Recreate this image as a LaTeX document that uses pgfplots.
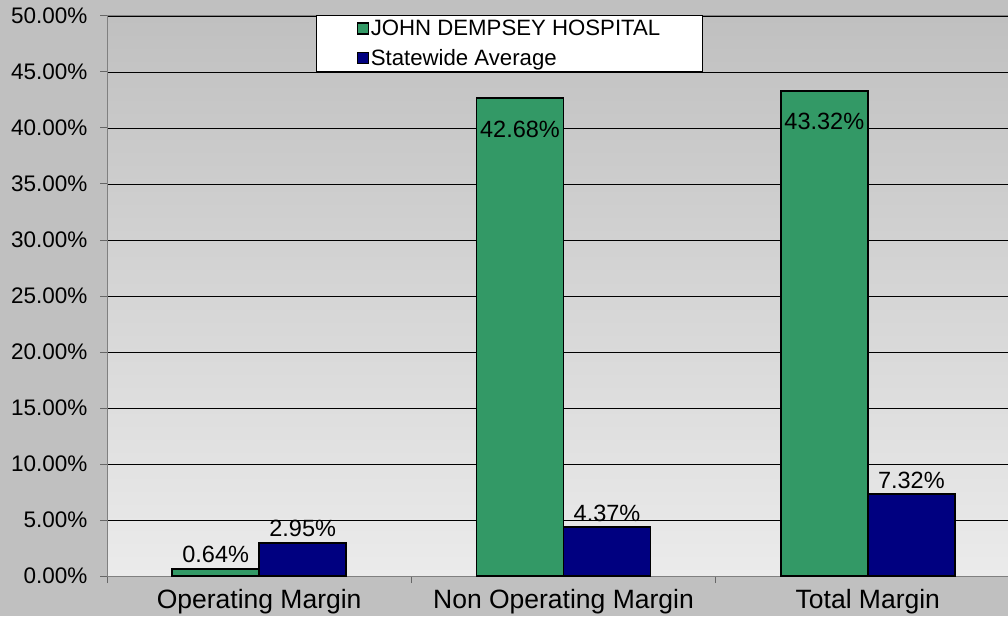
\documentclass[border=0pt]{standalone}
\usepackage{pgfplots}
\pgfplotsset{compat=1.18}
\usepackage{fontspec}
\setmainfont{Liberation Sans}
\definecolor{bggray}{HTML}{C0C0C0}
\definecolor{bglight}{HTML}{EBEBEB}
\definecolor{jdgreen}{HTML}{339966}
\definecolor{swnavy}{HTML}{000080}
\definecolor{axgray}{HTML}{808080}
\begin{document}
\begin{tikzpicture}
\useasboundingbox (0,0) rectangle (1008pt,616pt);
\clip (0,0) rectangle (1008pt,616pt);
\fill[bggray] (0,0) rectangle (1008pt,616pt);
\begin{axis}[
  at={(107pt,40pt)}, anchor=south west,
  scale only axis, width=913pt, height=560pt,
  xmin=-0.5, xmax=2.5, ymin=0, ymax=50,
  /pgf/number format/assume math mode=true,
  axis background/.style={top color=bggray, bottom color=bglight},
  axis line style={axgray, line width=1pt},
  ymajorgrids, major grid style={black, line width=0.8pt},
  ytick={0,5,...,50},
  yticklabel={\pgfmathprintnumber[fixed,fixed zerofill,precision=2]{\tick}\%},
  yticklabel style={font=\fontsize{22.5}{27}\selectfont, xshift=-9pt},
  xtick={-0.5,0.5,1.5,2.5}, xticklabels={,,,},
  extra x ticks={0,1,2},
  extra x tick labels={Operating Margin, Non Operating Margin, Total Margin},
  extra x tick style={major tick length=0pt, tick style={draw=none}, xticklabel style={font=\fontsize{26.5}{30}\selectfont, yshift=-10pt}},
  tick align=outside, tick pos=left, major tick length=7pt,
  tick style={black!60, line width=1pt},
  ybar=0pt, bar width=87pt,
  point meta=explicit,
  visualization depends on={y \as \rawy},
  nodes near coords={\pgfmathprintnumber[fixed,fixed zerofill,precision=2]{\pgfplotspointmeta}\%},
  nodes near coords style={font=\fontsize{23.5}{28}\selectfont, black, inner sep=5pt,
    yshift={ifthenelse(\rawy>40,-45,0)}},
  legend style={at={(209/913,1)}, yshift=1pt, anchor=north west, draw=black, fill=white, line width=1pt,
    font=\fontsize{22.2}{26}\selectfont, inner xsep=40pt, inner ysep=2.5pt, row sep=8pt,
    cells={anchor=west}},
  legend image code/.code={\draw[#1, draw=black, line width=1.3pt] (0pt,-5.5pt) rectangle (11pt,5.5pt);},
]
\addplot[fill=jdgreen, draw=black, line width=1.5pt]
  coordinates {(0,0.64) [0.64] (1,42.68) [42.68] (2,43.32) [43.32]};
\addplot[fill=swnavy, draw=black, line width=1.5pt]
  coordinates {(0,2.95) [2.95] (1,4.37) [4.37] (2,7.32) [7.32]};
\legend{JOHN DEMPSEY HOSPITAL, Statewide Average}
\end{axis}
\end{tikzpicture}
\end{document}
